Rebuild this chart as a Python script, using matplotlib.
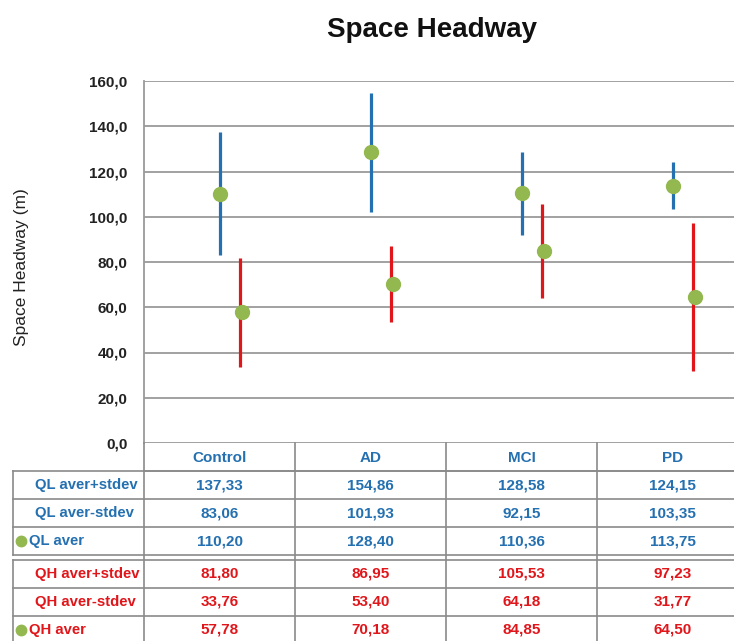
import matplotlib
matplotlib.use("Agg")
import matplotlib.pyplot as plt
from matplotlib.ticker import FuncFormatter

groups = ["Control", "AD", "MCI", "PD"]
ql_hi = [137.33, 154.86, 128.58, 124.15]
ql_lo = [83.06, 101.93, 92.15, 103.35]
ql_avg = [110.20, 128.40, 110.36, 113.75]
qh_hi = [81.80, 86.95, 105.53, 97.23]
qh_lo = [33.76, 53.40, 64.18, 31.77]
qh_avg = [57.78, 70.18, 84.85, 64.50]
yticks = [0, 20, 40, 60, 80, 100, 120, 140, 160]

BLUE = "#2470b0"
RED = "#e0161b"
GREEN = "#93b84f"
GRID = "#9a9a9a"
FONT = ["Liberation Sans", "DejaVu Sans"]

W, H = 734, 641
fig = plt.figure(figsize=(W / 100, H / 100), dpi=100)

# plot area in pixels (right edge runs off the picture like the original)
px_l, px_r, px_t, px_b = 144, 748, 81, 443
ax = fig.add_axes([px_l / W, 1 - px_b / H, (px_r - px_l) / W, (px_b - px_t) / H])
ax.set_xlim(-0.5, len(groups) - 0.5)
ax.set_ylim(0, 160)
ax.set_yticks(yticks)
ax.yaxis.set_major_formatter(FuncFormatter(lambda v, p: f"{v:.1f}".replace(".", ",")))
ax.set_xticks([])
ax.tick_params(axis="y", length=0, pad=12)
for lab in ax.get_yticklabels():
    lab.set_family(FONT)
    lab.set_fontweight("bold")
    lab.set_fontsize(11)
    lab.set_color("#222222")
ax.grid(axis="y", color=GRID, lw=1.3)
ax.set_axisbelow(True)
for s in ["top", "right", "bottom"]:
    ax.spines[s].set_visible(False)
ax.spines["left"].set_color(GRID)
ax.spines["left"].set_linewidth(1.3)

off = 20 / 151  # QH series sits a little right of the QL series
for i in range(len(groups)):
    ax.plot([i, i], [ql_lo[i], ql_hi[i]], color=BLUE, lw=2.3, solid_capstyle="butt", zorder=3)
    ax.plot([i + off, i + off], [qh_lo[i], qh_hi[i]], color=RED, lw=2.3, solid_capstyle="butt", zorder=3)
ax.plot(range(len(groups)), ql_avg, "o", color=GREEN, ms=10, ls="none", zorder=4)
ax.plot([i + off + 0.015 for i in range(len(groups))], qh_avg, "o", color=GREEN, ms=10, ls="none", zorder=4)

fig.text(432 / W, 1 - 30 / H, "Space Headway", family=FONT, fontweight="bold",
         fontsize=20, ha="center", va="center", color="#111111")
fig.text(22 / W, 1 - 267 / H, "Space Headway (m)", family=FONT,
         fontsize=12.5, rotation=90, ha="center", va="center", color="#222222")

# data table under the chart, drawn in pixel space
tx = fig.add_axes([0, 0, 1, 1])
tx.set_xlim(0, W)
tx.set_ylim(H, 0)
tx.axis("off")
tx.patch.set_alpha(0)

col_w = 151
col_edges = [px_l + col_w * k for k in range(len(groups) + 1)]
lab_l = 13
hdr_b = 471
ql_rows = [471, 499, 527, 555]
qh_rows = [560, 588, 616, 644]
lc = "#8a8a8a"
fs = 11

# header row
for k in range(len(groups)):
    cx = col_edges[k] + col_w / 2
    tx.text(cx, (px_b + hdr_b) / 2 + 1, groups[k], color=BLUE, family=FONT,
            fontweight="bold", fontsize=fs, ha="center", va="center")
tx.plot([px_l, W], [hdr_b, hdr_b], color=lc, lw=1.2)

# vertical column lines
for xe in col_edges:
    if xe < W:
        tx.plot([xe, xe], [px_b, H], color=lc, lw=1.2)

blocks = [
    (ql_rows, ["QL aver+stdev", "QL aver-stdev", "QL aver"], [ql_hi, ql_lo, ql_avg], BLUE),
    (qh_rows, ["QH aver+stdev", "QH aver-stdev", "QH aver"], [qh_hi, qh_lo, qh_avg], RED),
]
for rows, labels, vals, col in blocks:
    for y in rows:
        tx.plot([lab_l, W], [y, y], color=lc, lw=1.2)
    tx.plot([lab_l, lab_l], [rows[0], rows[-1]], color=lc, lw=1.2)
    for r in range(3):
        yc = (rows[r] + rows[r + 1]) / 2
        if r == 2:
            tx.plot(21, yc, "o", color=GREEN, ms=7.5)
            tx.text(29, yc, labels[r], color=col, family=FONT, fontweight="bold",
                    fontsize=10.7, ha="left", va="center")
        else:
            tx.text(35, yc, labels[r], color=col, family=FONT, fontweight="bold",
                    fontsize=10.7, ha="left", va="center")
        for k in range(len(groups)):
            cx = col_edges[k] + col_w / 2
            tx.text(cx, yc, f"{vals[r][k]:.2f}".replace(".", ","), color=col, family=FONT,
                    fontweight="bold", fontsize=fs, ha="center", va="center")

fig.savefig("out.png", dpi=100, facecolor="white")
